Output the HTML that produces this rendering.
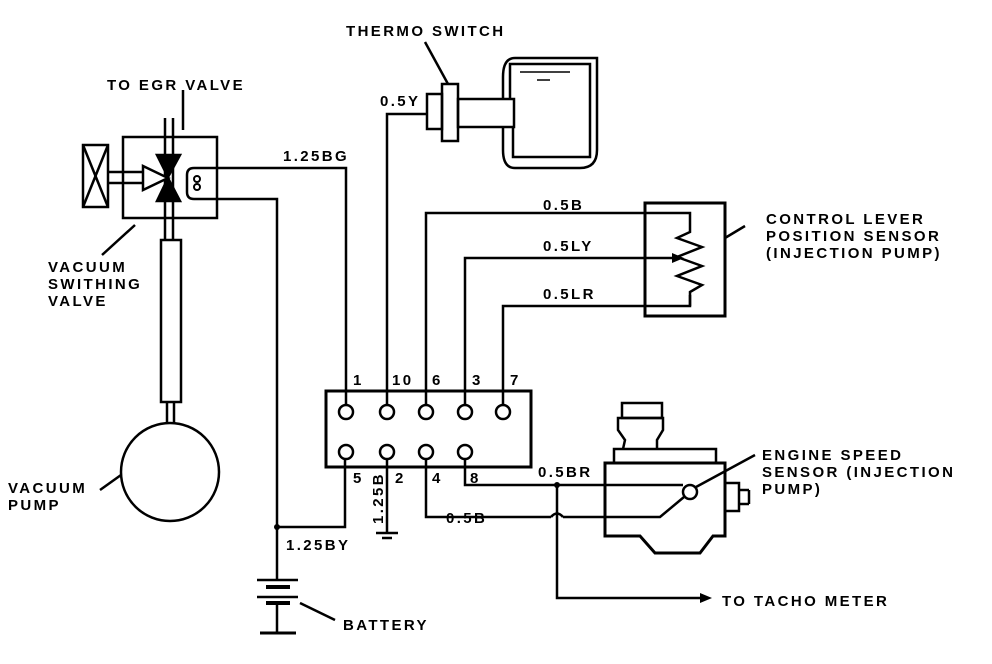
<!DOCTYPE html>
<html><head><style>body{margin:0;background:#fff}svg{display:block}text{font-family:"Liberation Sans",sans-serif;font-weight:bold;font-size:15px;letter-spacing:2.4px;fill:#000}</style></head><body>
<svg width="992" height="664" viewBox="0 0 992 664" xmlns="http://www.w3.org/2000/svg">
<g fill="none" stroke="#000" stroke-width="2.5">
<rect x="123" y="137" width="94" height="81"/>
<line x1="165" y1="118" x2="165" y2="240"/><line x1="173" y1="118" x2="173" y2="240"/>
<line x1="183" y1="90" x2="183" y2="130"/>
<rect x="83" y="145" width="25" height="62"/>
<line x1="83" y1="145" x2="108" y2="207"/><line x1="108" y1="145" x2="83" y2="207"/>
<line x1="108" y1="172" x2="143" y2="172"/><line x1="108" y1="183" x2="143" y2="183"/>
<path d="M143 166 L168 178 L143 190 Z" fill="#fff"/>
<path d="M157 155 L180 155 L168 177 Z M157 201 L180 201 L168 178 Z" fill="#000"/>
<path d="M218 168 L194 168 Q187 168 187 175 L187 192 Q187 199 194 199 L218 199"/>
<circle cx="197" cy="179" r="3" stroke-width="2"/><circle cx="197" cy="187" r="3" stroke-width="2"/>
<line x1="102" y1="255" x2="135" y2="225"/>
<rect x="161" y="240" width="20" height="162"/>
<line x1="167" y1="402" x2="167" y2="423"/><line x1="174" y1="402" x2="174" y2="423"/>
<circle cx="170" cy="472" r="49"/>
<line x1="100" y1="490" x2="121" y2="475"/>
<polyline points="218,168 346,168 346,405"/>
<polyline points="218,199 277,199 277,527 345,527 345,452"/>
<polyline points="277,527 277,580"/>
<line x1="257" y1="580" x2="298" y2="580"/><line x1="266" y1="587" x2="290" y2="587" stroke-width="4"/>
<line x1="257" y1="597" x2="298" y2="597"/><line x1="266" y1="603" x2="290" y2="603" stroke-width="4"/>
<line x1="277" y1="603" x2="277" y2="632"/><line x1="260" y1="633" x2="296" y2="633" stroke-width="3"/>
<line x1="300" y1="603" x2="335" y2="620"/>
<polyline points="387,405 387,114 427,114"/>
<rect x="427" y="94" width="15" height="35"/>
<rect x="442" y="84" width="16" height="57"/>
<rect x="458" y="99" width="56" height="28"/>
<path d="M503 99 L503 77 Q503 58 515 58 L597 58 L597 150 Q597 168 580 168 L515 168 Q503 168 503 150 L503 127"/>
<path d="M510 99 L510 64 L590 64 L590 157 L513 157 L513 127"/>
<line x1="520" y1="72" x2="570" y2="72" stroke-width="1.5"/><line x1="537" y1="80" x2="550" y2="80" stroke-width="1.5"/>
<line x1="425" y1="42" x2="448" y2="84"/>
<rect x="326" y="391" width="205" height="76" stroke-width="3"/>
<polyline points="426,405 426,213 690,213 690,225"/>
<polyline points="465,405 465,258 672,258"/>
<polyline points="503,405 503,306 690,306 690,295"/>
<polyline points="465,455 465,485 683,485"/>
<polyline points="426,455 426,517 551,517"/>
<path d="M551 517 Q557 510 563 517"/>
<polyline points="563,517 660,517 684,497"/>
<polyline points="557,485 557,598 700,598"/>
<line x1="387" y1="455" x2="387" y2="532"/><line x1="376" y1="533" x2="398" y2="533"/><line x1="382" y1="538" x2="392" y2="538"/>
<rect x="645" y="203" width="80" height="113" stroke-width="3"/>
<polyline points="690,225 690,232 677,238 702,247 677,257 702,266 677,276 702,285 690,292 690,306"/>
<line x1="725" y1="238" x2="745" y2="226"/>
<path d="M605 463 L725 463 L725 536 L713 536 L700 553 L655 553 L640 536 L605 536 Z" stroke-width="3"/>
<rect x="614" y="449" width="102" height="14"/>
<path d="M623 449 L625 440 L618 430 L618 418 L663 418 L663 430 L657 440 L657 449"/>
<rect x="622" y="403" width="40" height="15"/>
<rect x="725" y="483" width="14" height="28"/><line x1="739" y1="490" x2="749" y2="490"/><line x1="749" y1="490" x2="749" y2="504"/><line x1="739" y1="504" x2="749" y2="504"/>
<circle cx="690" cy="492" r="7" fill="#fff"/>
<line x1="696" y1="487" x2="755" y2="455"/>
</g>
<g fill="#000">
<circle cx="557" cy="485" r="3"/><circle cx="277" cy="527" r="3"/>
<path d="M700 593 L712 598 L700 603 Z"/>
<path d="M672 253 L684 258 L672 263 Z"/>
</g>
<g fill="#fff" stroke="#000" stroke-width="2.5">
<circle cx="346" cy="412" r="7"/><circle cx="387" cy="412" r="7"/><circle cx="426" cy="412" r="7"/><circle cx="465" cy="412" r="7"/><circle cx="503" cy="412" r="7"/>
<circle cx="346" cy="452" r="7"/><circle cx="387" cy="452" r="7"/><circle cx="426" cy="452" r="7"/><circle cx="465" cy="452" r="7"/>
</g>
<text x="107" y="90">TO EGR VALVE</text>
<text x="346" y="36">THERMO SWITCH</text>
<text x="380" y="106">0.5Y</text>
<text x="283" y="161">1.25BG</text>
<text x="48" y="272">VACUUM</text><text x="48" y="289">SWITHING</text><text x="48" y="306">VALVE</text>
<text x="8" y="493">VACUUM</text><text x="8" y="510">PUMP</text>
<text x="543" y="210">0.5B</text><text x="543" y="251">0.5LY</text><text x="543" y="299">0.5LR</text>
<text x="766" y="224">CONTROL LEVER</text><text x="766" y="241">POSITION SENSOR</text><text x="766" y="258">(INJECTION PUMP)</text>
<text x="353" y="385">1</text><text x="392" y="385">10</text><text x="432" y="385">6</text><text x="472" y="385">3</text><text x="510" y="385">7</text>
<text x="353" y="483">5</text><text x="395" y="483">2</text><text x="432" y="483">4</text><text x="470" y="483">8</text>
<text x="538" y="477">0.5BR</text><text x="446" y="523">0.5B</text>
<text x="286" y="550">1.25BY</text>
<text transform="translate(383,524) rotate(-90)">1.25B</text>
<text x="762" y="460">ENGINE SPEED</text><text x="762" y="477">SENSOR (INJECTION</text><text x="762" y="494">PUMP)</text>
<text x="722" y="606">TO TACHO METER</text>
<text x="343" y="630">BATTERY</text>
</svg>
</body></html>
